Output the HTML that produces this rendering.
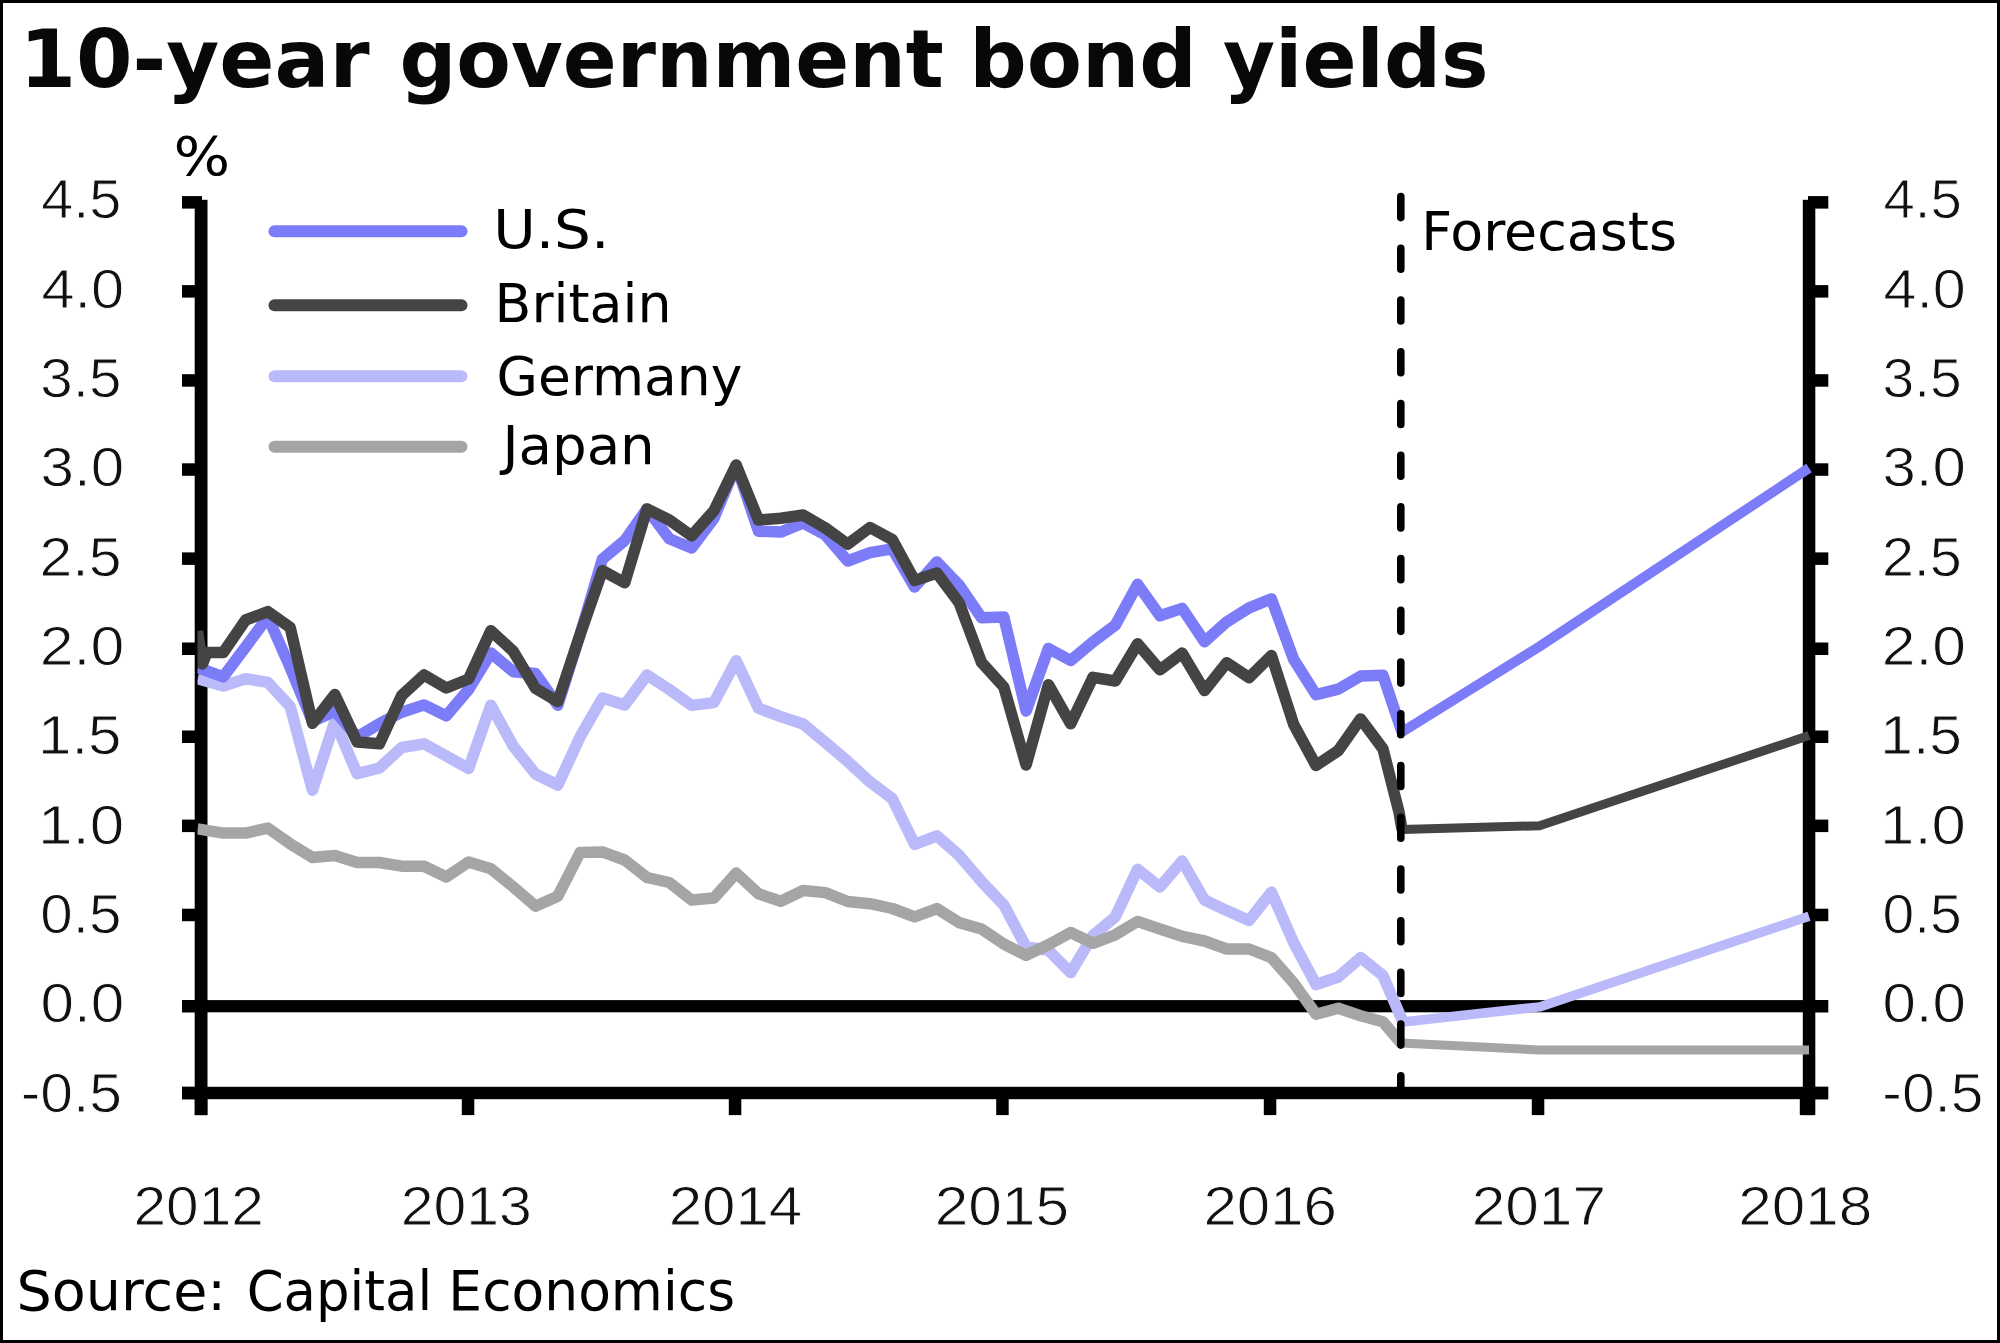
<!DOCTYPE html><html><head><meta charset='utf-8'><title>10-year government bond yields</title>
<style>html,body{margin:0;padding:0;background:#fff;overflow:hidden;}svg{display:block;}</style></head><body>
<svg width='2000' height='1343' viewBox='0 0 2000 1343'>
<rect x='0' y='0' width='2000' height='1343' fill='#fff'/>
<text x='19.43' y='86.80' font-family="'DejaVu Sans', 'Liberation Sans', sans-serif" font-weight='bold' font-size='79.60' fill='#080808' textLength='350.11' lengthAdjust='spacingAndGlyphs'>10-year</text>
<text x='399.43' y='86.80' font-family="'DejaVu Sans', 'Liberation Sans', sans-serif" font-weight='bold' font-size='79.60' fill='#080808' textLength='544.40' lengthAdjust='spacingAndGlyphs'>government</text>
<text x='969.25' y='86.80' font-family="'DejaVu Sans', 'Liberation Sans', sans-serif" font-weight='bold' font-size='79.60' fill='#080808' textLength='227.50' lengthAdjust='spacingAndGlyphs'>bond</text>
<text x='1223.03' y='86.80' font-family="'DejaVu Sans', 'Liberation Sans', sans-serif" font-weight='bold' font-size='79.60' fill='#080808' textLength='265.56' lengthAdjust='spacingAndGlyphs'>yields</text>
<text x='173.61' y='174.74' font-family="'DejaVu Sans', 'Liberation Sans', sans-serif" font-size='53.41' fill='#000' textLength='56.68' lengthAdjust='spacingAndGlyphs'>%</text>
<rect x='195' y='1000.1' width='1620' height='12.2' fill='#000'/>
<rect x='194.7' y='199.8' width='12.8' height='915.3' fill='#000'/>
<rect x='1802.8' y='199.8' width='12.5' height='915.3' fill='#000'/>
<rect x='182' y='1086.8' width='1646' height='12.4' fill='#000'/>
<rect x='182' y='196.1' width='20' height='12.5' fill='#000'/>
<rect x='1808' y='196.1' width='20.3' height='12.5' fill='#000'/>
<rect x='182' y='285.1' width='20' height='12.5' fill='#000'/>
<rect x='1808' y='285.1' width='20.3' height='12.5' fill='#000'/>
<rect x='182' y='374.2' width='20' height='12.5' fill='#000'/>
<rect x='1808' y='374.2' width='20.3' height='12.5' fill='#000'/>
<rect x='182' y='463.3' width='20' height='12.5' fill='#000'/>
<rect x='1808' y='463.3' width='20.3' height='12.5' fill='#000'/>
<rect x='182' y='552.4' width='20' height='12.5' fill='#000'/>
<rect x='1808' y='552.4' width='20.3' height='12.5' fill='#000'/>
<rect x='182' y='642.5' width='20' height='12.5' fill='#000'/>
<rect x='1808' y='642.5' width='20.3' height='12.5' fill='#000'/>
<rect x='182' y='730.5' width='20' height='12.5' fill='#000'/>
<rect x='1808' y='730.5' width='20.3' height='12.5' fill='#000'/>
<rect x='182' y='819.6' width='20' height='12.5' fill='#000'/>
<rect x='1808' y='819.6' width='20.3' height='12.5' fill='#000'/>
<rect x='182' y='908.7' width='20' height='12.5' fill='#000'/>
<rect x='1808' y='908.7' width='20.3' height='12.5' fill='#000'/>
<rect x='182' y='1000.0' width='20' height='12.5' fill='#000'/>
<rect x='1808' y='1000.0' width='20.3' height='12.5' fill='#000'/>
<rect x='182' y='1086.8' width='20' height='12.5' fill='#000'/>
<rect x='1808' y='1086.8' width='20.3' height='12.5' fill='#000'/>
<rect x='194.8' y='1090' width='12.5' height='25.1' fill='#000'/>
<rect x='461.8' y='1090' width='12.5' height='25.1' fill='#000'/>
<rect x='728.8' y='1090' width='12.5' height='25.1' fill='#000'/>
<rect x='996.2' y='1090' width='12.5' height='25.1' fill='#000'/>
<rect x='1263.8' y='1090' width='12.5' height='25.1' fill='#000'/>
<rect x='1531.8' y='1090' width='12.5' height='25.1' fill='#000'/>
<rect x='1799.8' y='1090' width='12.5' height='25.1' fill='#000'/>
<defs><clipPath id='pc'><rect x='197.5' y='150' width='1615' height='940'/></clipPath></defs>
<g clip-path='url(#pc)' fill='none' stroke-linejoin='round' stroke-linecap='butt'>
<polyline points='197.5,678.7 223.3,686.0 245.6,678.7 267.9,682.4 290.2,706.6 312.5,790.3 334.8,721.5 357.1,773.6 379.4,768.0 401.7,747.5 424.0,743.8 446.3,756.0 468.6,768.5 490.9,705.2 513.2,746.0 535.5,774.0 557.8,785.2 580.1,736.8 602.4,698.0 624.7,705.0 647.0,675.0 669.3,689.5 691.6,705.4 713.9,702.6 736.2,660.7 758.5,708.2 780.8,716.6 803.1,724.0 825.4,742.5 847.7,761.4 870.0,781.9 892.3,798.7 914.6,844.3 936.9,835.9 959.2,855.4 981.5,881.5 1003.8,905.0 1026.1,947.0 1048.4,950.3 1070.7,972.6 1093.0,935.4 1115.3,916.8 1137.6,869.3 1159.9,887.0 1182.2,861.0 1204.5,900.0 1226.8,910.6 1249.1,920.5 1271.4,892.1 1293.7,942.8 1316.0,984.5 1338.3,977.0 1360.6,957.6 1382.9,975.5 1403.0,1022.0' stroke='#bab9f9' stroke-width='11.5'/>
<polyline points='197.5,667.5 223.3,676.8 245.6,647.0 267.9,617.0 290.2,667.5 312.5,721.5 334.8,711.0 357.1,737.0 379.4,723.7 401.7,712.2 424.0,704.9 446.3,715.8 468.6,689.5 490.9,653.0 513.2,671.7 535.5,673.5 557.8,705.2 580.1,634.5 602.4,559.1 624.7,540.5 647.0,508.9 669.3,538.7 691.6,548.0 713.9,518.2 736.2,465.1 758.5,531.2 780.8,532.1 803.1,523.0 825.4,535.0 847.7,561.0 870.0,552.6 892.3,548.9 914.6,587.0 936.9,561.9 959.2,585.2 981.5,617.8 1003.8,617.0 1026.1,711.0 1048.4,648.5 1070.7,660.5 1093.0,641.9 1115.3,625.2 1137.6,584.2 1159.9,615.8 1182.2,608.4 1204.5,641.8 1226.8,621.8 1249.1,607.8 1271.4,598.9 1293.7,659.4 1316.0,694.7 1338.3,689.1 1360.6,676.1 1382.9,675.2 1402.0,732.0' stroke='#7c7cf9' stroke-width='11.5'/>
<polyline points='197.5,631.0 202.5,664.0 207.0,652.5 223.3,652.6 245.6,620.0 267.9,611.6 290.2,627.5 312.5,723.3 334.8,694.5 357.1,742.0 379.4,743.8 401.7,695.4 424.0,675.0 446.3,688.0 468.6,679.0 490.9,630.7 513.2,651.2 535.5,688.4 557.8,701.5 580.1,634.5 602.4,570.6 624.7,582.8 647.0,508.9 669.3,520.0 691.6,535.9 713.9,510.7 736.2,465.1 758.5,520.0 780.8,518.2 803.1,515.0 825.4,528.0 847.7,544.2 870.0,527.5 892.3,539.6 914.6,580.5 936.9,573.0 959.2,602.9 981.5,662.4 1003.8,687.0 1026.1,765.0 1048.4,684.7 1070.7,723.8 1093.0,677.3 1115.3,681.0 1137.6,643.8 1159.9,669.8 1182.2,653.1 1204.5,690.6 1226.8,662.7 1249.1,677.6 1271.4,655.6 1293.7,724.5 1316.0,765.5 1338.3,750.6 1360.6,718.9 1382.9,748.7 1399.0,812.0 1402.0,829.5' stroke='#444444' stroke-width='11.5'/>
<polyline points='197.5,828.8 223.3,833.1 245.6,833.1 267.9,828.1 290.2,843.8 312.5,857.5 334.8,855.6 357.1,862.5 379.4,862.5 401.7,866.2 424.0,866.2 446.3,877.0 468.6,861.9 490.9,868.8 513.2,886.9 535.5,906.2 557.8,896.2 580.1,852.5 602.4,851.9 624.7,860.0 647.0,877.5 669.3,882.5 691.6,900.0 713.9,898.1 736.2,873.1 758.5,893.8 780.8,901.2 803.1,890.5 825.4,892.6 847.7,901.5 870.0,903.7 892.3,908.5 914.6,916.8 936.9,908.6 959.2,922.6 981.5,929.0 1003.8,944.0 1026.1,955.3 1048.4,944.8 1070.7,932.5 1093.0,943.3 1115.3,934.8 1137.6,921.4 1159.9,929.0 1182.2,936.3 1204.5,941.0 1226.8,949.0 1249.1,949.0 1271.4,957.6 1293.7,983.0 1316.0,1014.2 1338.3,1008.3 1360.6,1015.7 1382.9,1021.7 1401.0,1043.0' stroke='#a5a5a5' stroke-width='11.5'/>
<polyline points='1403.0,1022.0 1539.5,1006.9 1809.0,916.3' stroke='#bab9f9' stroke-width='9.5'/>
<polyline points='1402.0,732.0 1539.5,646.5 1809.0,468.0' stroke='#7c7cf9' stroke-width='10'/>
<polyline points='1402.0,829.5 1539.5,825.7 1809.0,735.6' stroke='#444444' stroke-width='9'/>
<polyline points='1401.0,1043.0 1539.5,1050.0 1809.0,1050.0' stroke='#a5a5a5' stroke-width='9'/>
</g>
<line x1='1400.8' y1='196.6' x2='1400.8' y2='1093' stroke='#000' stroke-width='7.6' stroke-linecap='round' stroke-dasharray='21 30.72'/>
<text x='41.28' y='218.31' font-family="'Liberation Sans', sans-serif" font-size='55.46' fill='#111' stroke='#fff' stroke-width='0.9' textLength='80.14' lengthAdjust='spacingAndGlyphs'>4.5</text>
<text x='1883.51' y='218.31' font-family="'Liberation Sans', sans-serif" font-size='55.46' fill='#111' stroke='#fff' stroke-width='0.9' textLength='78.26' lengthAdjust='spacingAndGlyphs'>4.5</text>
<text x='41.43' y='307.67' font-family="'Liberation Sans', sans-serif" font-size='54.66' fill='#111' stroke='#fff' stroke-width='0.9' textLength='82.69' lengthAdjust='spacingAndGlyphs'>4.0</text>
<text x='1883.44' y='307.67' font-family="'Liberation Sans', sans-serif" font-size='54.66' fill='#111' stroke='#fff' stroke-width='0.9' textLength='82.37' lengthAdjust='spacingAndGlyphs'>4.0</text>
<text x='40.38' y='397.02' font-family="'Liberation Sans', sans-serif" font-size='54.66' fill='#111' stroke='#fff' stroke-width='0.9' textLength='81.07' lengthAdjust='spacingAndGlyphs'>3.5</text>
<text x='1882.63' y='397.02' font-family="'Liberation Sans', sans-serif" font-size='54.66' fill='#111' stroke='#fff' stroke-width='0.9' textLength='79.16' lengthAdjust='spacingAndGlyphs'>3.5</text>
<text x='40.51' y='486.37' font-family="'Liberation Sans', sans-serif" font-size='54.66' fill='#111' stroke='#fff' stroke-width='0.9' textLength='83.64' lengthAdjust='spacingAndGlyphs'>3.0</text>
<text x='1882.52' y='486.37' font-family="'Liberation Sans', sans-serif" font-size='54.66' fill='#111' stroke='#fff' stroke-width='0.9' textLength='83.32' lengthAdjust='spacingAndGlyphs'>3.0</text>
<text x='39.64' y='575.72' font-family="'Liberation Sans', sans-serif" font-size='54.66' fill='#111' stroke='#fff' stroke-width='0.9' textLength='81.83' lengthAdjust='spacingAndGlyphs'>2.5</text>
<text x='1881.91' y='575.72' font-family="'Liberation Sans', sans-serif" font-size='54.66' fill='#111' stroke='#fff' stroke-width='0.9' textLength='79.90' lengthAdjust='spacingAndGlyphs'>2.5</text>
<text x='39.75' y='665.07' font-family="'Liberation Sans', sans-serif" font-size='54.66' fill='#111' stroke='#fff' stroke-width='0.9' textLength='84.43' lengthAdjust='spacingAndGlyphs'>2.0</text>
<text x='1881.76' y='665.07' font-family="'Liberation Sans', sans-serif" font-size='54.66' fill='#111' stroke='#fff' stroke-width='0.9' textLength='84.11' lengthAdjust='spacingAndGlyphs'>2.0</text>
<text x='38.02' y='754.41' font-family="'Liberation Sans', sans-serif" font-size='55.46' fill='#111' stroke='#fff' stroke-width='0.9' textLength='83.50' lengthAdjust='spacingAndGlyphs'>1.5</text>
<text x='1880.33' y='754.41' font-family="'Liberation Sans', sans-serif" font-size='55.46' fill='#111' stroke='#fff' stroke-width='0.9' textLength='81.53' lengthAdjust='spacingAndGlyphs'>1.5</text>
<text x='38.08' y='843.77' font-family="'Liberation Sans', sans-serif" font-size='54.66' fill='#111' stroke='#fff' stroke-width='0.9' textLength='86.14' lengthAdjust='spacingAndGlyphs'>1.0</text>
<text x='1880.10' y='843.77' font-family="'Liberation Sans', sans-serif" font-size='54.66' fill='#111' stroke='#fff' stroke-width='0.9' textLength='85.81' lengthAdjust='spacingAndGlyphs'>1.0</text>
<text x='40.32' y='933.12' font-family="'Liberation Sans', sans-serif" font-size='54.66' fill='#111' stroke='#fff' stroke-width='0.9' textLength='81.13' lengthAdjust='spacingAndGlyphs'>0.5</text>
<text x='1882.57' y='933.12' font-family="'Liberation Sans', sans-serif" font-size='54.66' fill='#111' stroke='#fff' stroke-width='0.9' textLength='79.22' lengthAdjust='spacingAndGlyphs'>0.5</text>
<text x='40.45' y='1022.47' font-family="'Liberation Sans', sans-serif" font-size='54.66' fill='#111' stroke='#fff' stroke-width='0.9' textLength='83.70' lengthAdjust='spacingAndGlyphs'>0.0</text>
<text x='1882.46' y='1022.47' font-family="'Liberation Sans', sans-serif" font-size='54.66' fill='#111' stroke='#fff' stroke-width='0.9' textLength='83.39' lengthAdjust='spacingAndGlyphs'>0.0</text>
<text x='20.79' y='1111.82' font-family="'Liberation Sans', sans-serif" font-size='54.66' fill='#111' stroke='#fff' stroke-width='0.9' textLength='101.28' lengthAdjust='spacingAndGlyphs'>-0.5</text>
<text x='1882.39' y='1111.82' font-family="'Liberation Sans', sans-serif" font-size='54.66' fill='#111' stroke='#fff' stroke-width='0.9' textLength='101.07' lengthAdjust='spacingAndGlyphs'>-0.5</text>
<text x='133.56' y='1224.56' font-family="'Liberation Sans', sans-serif" font-size='55.79' fill='#111' stroke='#fff' stroke-width='0.9' textLength='130.19' lengthAdjust='spacingAndGlyphs'>2012</text>
<text x='400.84' y='1224.56' font-family="'Liberation Sans', sans-serif" font-size='55.79' fill='#111' stroke='#fff' stroke-width='0.9' textLength='130.95' lengthAdjust='spacingAndGlyphs'>2013</text>
<text x='668.68' y='1224.56' font-family="'Liberation Sans', sans-serif" font-size='55.79' fill='#111' stroke='#fff' stroke-width='0.9' textLength='133.58' lengthAdjust='spacingAndGlyphs'>2014</text>
<text x='934.66' y='1224.56' font-family="'Liberation Sans', sans-serif" font-size='55.79' fill='#111' stroke='#fff' stroke-width='0.9' textLength='134.37' lengthAdjust='spacingAndGlyphs'>2015</text>
<text x='1203.48' y='1224.56' font-family="'Liberation Sans', sans-serif" font-size='55.79' fill='#111' stroke='#fff' stroke-width='0.9' textLength='133.45' lengthAdjust='spacingAndGlyphs'>2016</text>
<text x='1471.71' y='1224.56' font-family="'Liberation Sans', sans-serif" font-size='55.79' fill='#111' stroke='#fff' stroke-width='0.9' textLength='134.32' lengthAdjust='spacingAndGlyphs'>2017</text>
<text x='1738.37' y='1224.56' font-family="'Liberation Sans', sans-serif" font-size='55.79' fill='#111' stroke='#fff' stroke-width='0.9' textLength='133.94' lengthAdjust='spacingAndGlyphs'>2018</text>
<line x1='274.5' y1='231.3' x2='461.5' y2='231.3' stroke='#7c7cf9' stroke-width='12' stroke-linecap='round'/>
<text x='493.15' y='247.90' font-family="'DejaVu Sans', 'Liberation Sans', sans-serif" font-size='54.00' fill='#000' textLength='116.32' lengthAdjust='spacingAndGlyphs'>U.S.</text>
<line x1='274.5' y1='305.3' x2='461.5' y2='305.3' stroke='#444444' stroke-width='12' stroke-linecap='round'/>
<text x='494.52' y='322.00' font-family="'DejaVu Sans', 'Liberation Sans', sans-serif" font-size='54.00' fill='#000' textLength='177.05' lengthAdjust='spacingAndGlyphs'>Britain</text>
<line x1='274.5' y1='376.3' x2='461.5' y2='376.3' stroke='#bab9f9' stroke-width='12' stroke-linecap='round'/>
<text x='496.61' y='395.30' font-family="'DejaVu Sans', 'Liberation Sans', sans-serif" font-size='54.00' fill='#000' textLength='245.68' lengthAdjust='spacingAndGlyphs'>Germany</text>
<line x1='274.5' y1='446.8' x2='461.5' y2='446.8' stroke='#a5a5a5' stroke-width='12' stroke-linecap='round'/>
<text x='502.43' y='464.30' font-family="'DejaVu Sans', 'Liberation Sans', sans-serif" font-size='54.00' fill='#000' textLength='152.31' lengthAdjust='spacingAndGlyphs'>Japan</text>
<text x='1421.18' y='249.90' font-family="'DejaVu Sans', 'Liberation Sans', sans-serif" font-size='53.20' fill='#000' textLength='255.82' lengthAdjust='spacingAndGlyphs'>Forecasts</text>
<text x='16.56' y='1309.80' font-family="'DejaVu Sans', 'Liberation Sans', sans-serif" font-size='55.80' fill='#000' textLength='209.48' lengthAdjust='spacingAndGlyphs'>Source:</text>
<text x='246.63' y='1309.80' font-family="'DejaVu Sans', 'Liberation Sans', sans-serif" font-size='55.80' fill='#000' textLength='185.53' lengthAdjust='spacingAndGlyphs'>Capital</text>
<text x='448.35' y='1309.80' font-family="'DejaVu Sans', 'Liberation Sans', sans-serif" font-size='55.80' fill='#000' textLength='286.76' lengthAdjust='spacingAndGlyphs'>Economics</text>
<rect x='1.5' y='1.5' width='1997' height='1340' fill='none' stroke='#000' stroke-width='3'/>
</svg></body></html>
